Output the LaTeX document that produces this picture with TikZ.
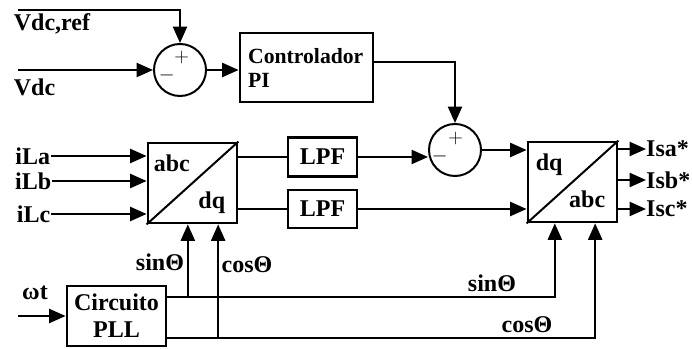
\documentclass[tikz,border=0pt]{standalone}
\usepackage{fontspec}
\setmainfont{Liberation Serif}
\usetikzlibrary{arrows.meta}

\tikzset{
  wire/.style={line width=1.7pt},
  sig/.style={wire,-{Triangle[length=14pt,width=12pt]}},
  blk/.style={draw,line width=2.4pt,inner sep=0pt},
  sumc/.style={draw,circle,line width=1.7pt,minimum size=1.56cm,inner sep=0pt},
  lbl/.style={inner sep=0.5pt},
  sgn/.style={inner sep=0pt,font=\normalfont\fontsize{16}{16}\selectfont},
}

\begin{document}
\begin{tikzpicture}[x=0.03cm,y=-0.03cm,line join=miter,font=\bfseries\fontsize{20.5}{23}\selectfont]
  \useasboundingbox (0,0) rectangle (692,349);
  \node[sumc] (s1) at (180,70) {};
  \node[sumc] (s2) at (455,150) {};
  \node[sgn] at ([shift={(0.05cm,0.38cm)}]s1.center) {$+$};
  \node[sgn] at ([shift={(-0.4cm,-0.16cm)}]s1.center) {$-$};
  \node[sgn] at ([shift={(0.02cm,0.36cm)}]s2.center) {$+$};
  \node[sgn] at ([shift={(-0.46cm,-0.18cm)}]s2.center) {$-$};
  \node[blk,minimum width=3.99cm,minimum height=2.07cm,text width=3.5cm,align=left,
        font=\bfseries\fontsize{18.5}{20.5}\selectfont] (pi) at (306.5,67.5) {Controlador\\PI};
  \node[blk,minimum width=2.07cm,minimum height=1.17cm] (lpf1) at (322.5,157) {LPF};
  \node[blk,minimum width=2.07cm,minimum height=1.14cm] (lpf2) at (322.5,209) {LPF};
  \node[blk,minimum width=2.67cm,minimum height=2.4cm] (dq1) at (192.5,183) {};
  \node[blk,minimum width=2.67cm,minimum height=2.4cm] (dq2) at (572.5,182) {};
  \node[blk,minimum width=2.97cm,minimum height=1.8cm,align=center] (pll) at (116.5,316) {Circuito\\PLL};
  \draw[wire] (dq1.south west) -- (dq1.north east);
  \draw[wire] (dq2.south west) -- (dq2.north east);
  \node[inner sep=0pt,anchor=base west] at ([shift={(0.21cm,-0.9cm)}]dq1.north west) {abc};
  \node[inner sep=0pt,anchor=base east] at ([shift={(-0.39cm,0.48cm)}]dq1.south east) {dq};
  \node[inner sep=0pt,anchor=base west] at ([shift={(0.27cm,-0.9cm)}]dq2.north west) {dq};
  \node[inner sep=0pt,anchor=base east] at ([shift={(-0.39cm,0.48cm)}]dq2.south east) {abc};

  \node[lbl,anchor=base west] (vref) at (13,31) {Vdc,ref};
  \node[lbl,anchor=base west] (vdc) at (13,96) {Vdc};
  \coordinate (vrefin) at (18,10);
  \coordinate (vdcin) at (18,70);
  \draw[sig] (vrefin) -| (s1);
  \draw[sig] (vdcin) -- (s1);
  \draw[sig] (s1) -- (s1 -| pi.west);
  \draw[sig] ([yshift=0.16cm]pi.east) -| (s2);
  \draw[sig] (lpf1) -- (lpf1 -| s2.west);
  \draw[sig] (s2) -- (s2 -| dq2.west);
  \draw[sig] (lpf2) -- (lpf2 -| dq2.west);
  \draw[wire] (lpf1 -| dq1.east) -- (lpf1);
  \draw[wire] (lpf2 -| dq1.east) -- (lpf2);

  \node[lbl,anchor=east] (ila) at (51,156) {iLa};
  \node[lbl,anchor=east] (ilb) at (52,181) {iLb};
  \node[lbl,anchor=east] (ilc) at (51,214) {iLc};
  \foreach \n in {ila,ilb,ilc}
    \draw[sig] (\n) -- (\n -| dq1.west);

  \node[inner sep=0pt,anchor=west] (isa) at (646,149) {Isa*};
  \node[inner sep=0pt,anchor=west] (isb) at (646,180) {Isb*};
  \node[inner sep=0pt,anchor=west] (isc) at (646,209) {Isc*};
  \foreach \n in {isa,isb,isc}
    \draw[sig] (\n -| dq2.east) -- (\n);

  \node[lbl] (wt) at (35,293) {ωt};
  \coordinate (wtin) at (18,316);
  \draw[sig] (wtin) -- (pll);

  \coordinate (sinA) at ([yshift=0.57cm]pll.east);
  \coordinate (cosA) at ([yshift=-0.66cm]pll.east);
  \coordinate (sin1) at ([xshift=-0.14cm]dq1.south);
  \coordinate (cos1) at ([xshift=0.77cm]dq1.south);
  \coordinate (sin2) at ([xshift=-0.53cm]dq2.south);
  \coordinate (cos2) at ([xshift=0.68cm]dq2.south);
  \draw[sig] (sinA) -| (sin2);
  \draw[sig] (cosA) -| (cos2);
  \draw[sig] (sin1 |- sinA) -- (sin1);
  \draw[sig] (cos1 |- cosA) -- (cos1);
  \node[lbl] (sinL) at (160,262) {sinΘ};
  \node[lbl] (cosL) at (247,265) {cosΘ};
  \node[lbl] (sinR) at (492,283) {sinΘ};
  \node[lbl] (cosR) at (527,325) {cosΘ};
\end{tikzpicture}
\end{document}
